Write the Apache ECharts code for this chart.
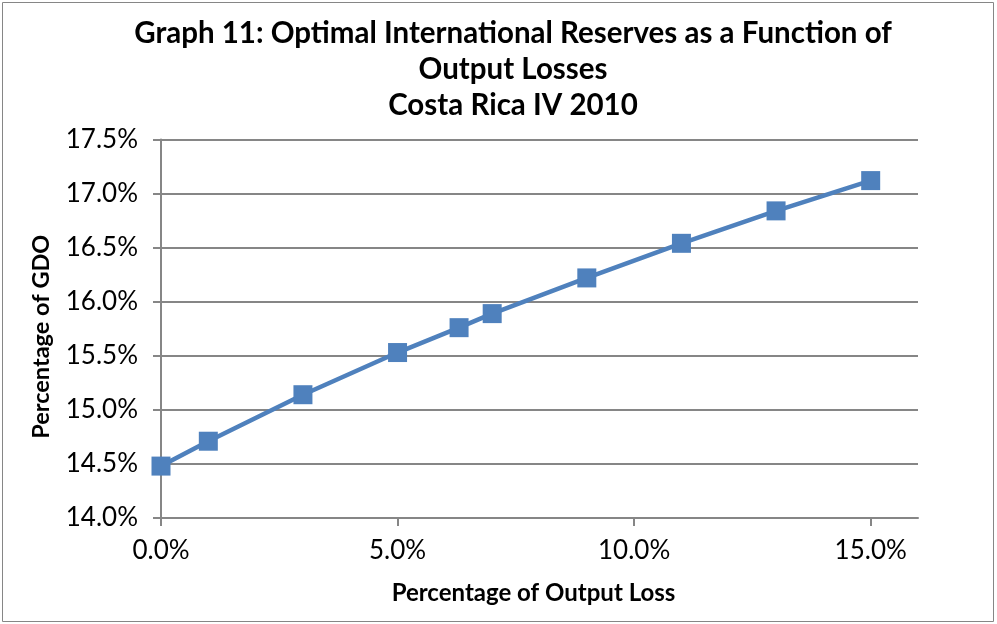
<!DOCTYPE html>
<html>
<head>
<meta charset="utf-8">
<script src="https://cdn.jsdelivr.net/npm/echarts@6/dist/echarts.min.js"></script>
<style>
  html, body { margin: 0; padding: 0; background: #fff; }
  #chart { width: 997px; height: 624px; }
</style>
</head>
<body>
<div id="chart"></div>
<script>
// output loss (%) and optimal reserves (% of GDO)
var outputLoss = [0, 1, 3, 5, 6.3, 7, 9, 11, 13, 15]
var reserves = [14.48, 14.71, 15.14, 15.53, 15.76, 15.89, 16.22, 16.54, 16.84, 17.12]
var xTicks = [0, 5, 10, 15]
var titleLines = ['Graph 11: Optimal International Reserves as a Function of', 'Output Losses', 'Costa Rica IV 2010']

var points = outputLoss.map(function (x, i) { return [x, reserves[i]] })
var font = 'Lato, "Open Sans", sans-serif'
var pct = function (v) { return v.toFixed(1) + '%' }

var chart = echarts.init(document.getElementById('chart'))
chart.setOption({
  animation: false,
  backgroundColor: '#fff',
  graphic: [{
    type: 'rect',
    shape: { x: 2.5, y: 2.5, width: 991, height: 619 },
    style: { fill: 'none', stroke: '#868686', lineWidth: 1 }
  }],
  title: {
    text: titleLines.join('\n'),
    left: 508,
    textAlign: 'center',
    top: 10,
    textStyle: { fontFamily: font, fontSize: 29.5, fontWeight: 'bold', color: '#000', lineHeight: 36 }
  },
  grid: { left: 161, right: 79, top: 139.5, bottom: 106, containLabel: false },
  xAxis: {
    type: 'value',
    min: 0,
    max: 16,
    interval: 5,
    name: 'Percentage of Output Loss',
    nameLocation: 'middle',
    nameGap: 63,
    nameTextStyle: { fontFamily: font, fontSize: 24, fontWeight: 'bold', color: '#000', padding: [0, 12, 0, 0] },
    axisLine: { lineStyle: { color: '#868686', width: 2 } },
    axisTick: { show: true, length: 8, customValues: xTicks, lineStyle: { color: '#868686', width: 2 } },
    axisLabel: { customValues: xTicks, formatter: pct, margin: 20, fontFamily: font, fontSize: 26, color: '#000' },
    splitLine: { show: false }
  },
  yAxis: {
    type: 'value',
    min: 14,
    max: 17.5,
    interval: 0.5,
    name: 'Percentage of GDO',
    nameLocation: 'middle',
    nameGap: 108,
    nameTextStyle: { fontFamily: font, fontSize: 23.5, fontWeight: 'bold', color: '#000', padding: [0, 16, 0, 0] },
    axisLine: { show: true, lineStyle: { color: '#868686', width: 2 } },
    axisTick: { show: true, length: 8, lineStyle: { color: '#868686', width: 2 } },
    axisLabel: { formatter: pct, margin: 23, fontFamily: font, fontSize: 26, color: '#000' },
    splitLine: { show: true, lineStyle: { color: '#868686', width: 2 } }
  },
  series: [{
    type: 'line',
    data: points,
    symbol: 'rect',
    symbolSize: 19,
    itemStyle: { color: '#4F81BD' },
    lineStyle: { color: '#4F81BD', width: 4.5 }
  }]
})
</script>
</body>
</html>
